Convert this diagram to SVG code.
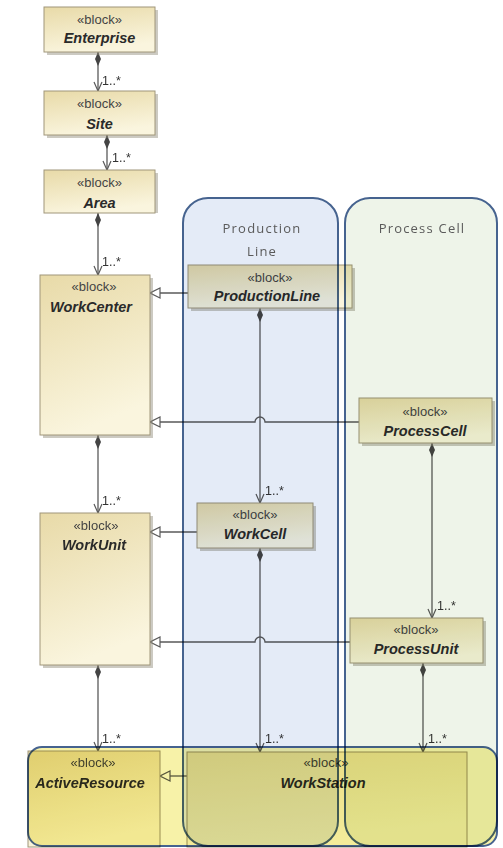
<svg xmlns="http://www.w3.org/2000/svg" width="503" height="848" viewBox="0 0 503 848">
  <style>
    .blk { stroke: #a0967a; stroke-width: 1; }
    .shd { fill: #8f8a78; opacity: 0.45; }
    .st { font-family: "Liberation Sans", Arial, sans-serif; font-size: 13px; fill: #444; text-anchor: middle; }
    .nm { font-family: "Liberation Sans", Arial, sans-serif; font-size: 14.5px; font-weight: bold; font-style: italic; fill: #2a2a2a; text-anchor: middle; }
    .mult { font-family: "Liberation Sans", Arial, sans-serif; font-size: 12.5px; fill: #333; }
    .cmp { fill: none; stroke: #5a5a5a; stroke-width: 1.3; marker-start: url(#diamond); marker-end: url(#open); }
    .gen { fill: none; stroke: #5a5a5a; stroke-width: 1.3; marker-end: url(#tri); }
    .lane { stroke: #46638f; stroke-width: 2; mix-blend-mode: multiply; }
    .hdr { font-family: "Open Sans", "DejaVu Sans", sans-serif; font-size: 13px; letter-spacing: 1.2px; fill: #5a5a5a; text-anchor: middle; }
  </style>
  <defs>
    <linearGradient id="tan" x1="0" y1="0" x2="0.3" y2="1">
      <stop offset="0" stop-color="#e8daa8"/>
      <stop offset="1" stop-color="#faf5de"/>
    </linearGradient>
    <linearGradient id="tanLight" x1="0" y1="0" x2="0.3" y2="1">
      <stop offset="0" stop-color="#f1e8c4"/>
      <stop offset="1" stop-color="#fcf9ea"/>
    </linearGradient>
    <marker id="diamond" markerUnits="userSpaceOnUse" markerWidth="16" markerHeight="10" viewBox="0 0 16 10" refX="0" refY="5" orient="auto">
      <path d="M0,5 L7,2 L14,5 L7,8 z" fill="#444"/>
    </marker>
    <marker id="open" markerUnits="userSpaceOnUse" markerWidth="11" markerHeight="10" viewBox="0 0 11 10" refX="10" refY="5" orient="auto">
      <path d="M1,1 L10,5 L1,9" fill="none" stroke="#5a5a5a" stroke-width="1.2"/>
    </marker>
    <marker id="tri" markerUnits="userSpaceOnUse" markerWidth="12" markerHeight="12" viewBox="0 0 12 12" refX="11" refY="6" orient="auto">
      <path d="M1,1 L11,6 L1,11 z" fill="#fff" stroke="#5a5a5a" stroke-width="1.2"/>
    </marker>
  </defs>

  <!-- connectors -->
  <g id="connectors">
    <path class="cmp" d="M98,52 V91"/>
    <path class="cmp" d="M107,135 V170"/>
    <path class="cmp" d="M98,213 V275"/>
    <path class="cmp" d="M98,435 V513"/>
    <path class="cmp" d="M98,665 V751"/>
    <path class="cmp" d="M260,308 V503"/>
    <path class="cmp" d="M260,548 V752"/>
    <path class="cmp" d="M432,443 V618"/>
    <path class="cmp" d="M423,663 V752"/>
    <path class="gen" d="M188,293 H150"/>
    <path class="gen" d="M359,422 H265 A5,5 0 0 0 255,422 H150"/>
    <path class="gen" d="M197,532 H150"/>
    <path class="gen" d="M350,642 H265 A5,5 0 0 0 255,642 H150"/>
    <path class="gen" d="M187,776 H160"/>
    <text class="mult" x="102" y="85">1..*</text>
    <text class="mult" x="112" y="162">1..*</text>
    <text class="mult" x="102" y="266">1..*</text>
    <text class="mult" x="102" y="505">1..*</text>
    <text class="mult" x="102" y="743">1..*</text>
    <text class="mult" x="265" y="495">1..*</text>
    <text class="mult" x="265" y="743">1..*</text>
    <text class="mult" x="437" y="610">1..*</text>
    <text class="mult" x="428" y="743">1..*</text>
  </g>

  <g id="Enterprise">
    <rect class="shd" x="47" y="10" width="111" height="45"/>
    <rect class="blk" x="44" y="7" width="111" height="45" fill="url(#tan)"/>
    <text class="st" x="99.5" y="24">«block»</text>
    <text class="nm" x="99.5" y="43">Enterprise</text>
  </g>
  <g id="Site">
    <rect class="shd" x="47" y="94" width="111" height="44"/>
    <rect class="blk" x="44" y="91" width="111" height="44" fill="url(#tan)"/>
    <text class="st" x="99.5" y="108">«block»</text>
    <text class="nm" x="99.5" y="129">Site</text>
  </g>
  <g id="Area">
    <rect class="shd" x="47" y="173" width="111" height="40"/>
    <rect class="blk" x="44" y="170" width="111" height="43" fill="url(#tan)"/>
    <text class="st" x="99.5" y="187">«block»</text>
    <text class="nm" x="99.5" y="208" font-style="normal">Area</text>
  </g>
  <g id="WorkCenter">
    <rect class="shd" x="43" y="278" width="110" height="160"/>
    <rect class="blk" x="40" y="275" width="110" height="160" fill="url(#tan)"/>
    <text class="st" x="94" y="291">«block»</text>
    <text class="nm" x="91" y="312">WorkCenter</text>
  </g>
  <g id="WorkUnit">
    <rect class="shd" x="43" y="516" width="110" height="152"/>
    <rect class="blk" x="40" y="513" width="110" height="152" fill="url(#tan)"/>
    <text class="st" x="96" y="530">«block»</text>
    <text class="nm" x="94" y="550">WorkUnit</text>
  </g>
  <g id="ActiveResource">
    <rect class="blk" x="28" y="751" width="132" height="96" fill="url(#tan)" stroke="#b08a60"/>
    <text class="st" x="93" y="767">«block»</text>
    <text class="nm" x="90" y="788">ActiveResource</text>
  </g>
  <g id="ProductionLine">
    <rect class="shd" x="191" y="268" width="164" height="43"/>
    <rect class="blk" x="188" y="265" width="164" height="43" fill="url(#tan)"/>
    <text class="st" x="270" y="282">«block»</text>
    <text class="nm" x="267" y="301">ProductionLine</text>
  </g>
  <g id="ProcessCell">
    <rect class="shd" x="362" y="401" width="133" height="45"/>
    <rect class="blk" x="359" y="398" width="133" height="45" fill="url(#tan)"/>
    <text class="st" x="425" y="416">«block»</text>
    <text class="nm" x="425" y="436">ProcessCell</text>
  </g>
  <g id="WorkCell">
    <rect class="shd" x="200" y="506" width="116" height="45"/>
    <rect class="blk" x="197" y="503" width="116" height="45" fill="url(#tan)"/>
    <text class="st" x="255" y="519">«block»</text>
    <text class="nm" x="255" y="539">WorkCell</text>
  </g>
  <g id="ProcessUnit">
    <rect class="shd" x="353" y="621" width="133" height="45"/>
    <rect class="blk" x="350" y="618" width="133" height="45" fill="url(#tan)"/>
    <text class="st" x="416" y="634">«block»</text>
    <text class="nm" x="416" y="654">ProcessUnit</text>
  </g>
  <g id="WorkStation">
    <rect class="blk" x="187" y="752" width="280" height="95" fill="url(#tanLight)"/>
    <text class="st" x="326" y="767">«block»</text>
    <text class="nm" x="323" y="788">WorkStation</text>
  </g>

  <!-- partitions, blended over the blocks they hold -->
  <g id="lane-ProductionLine">
    <rect class="lane" x="183" y="198" width="155" height="648" rx="25" fill="#e4ebf7"/>
    <text class="hdr" x="262" y="233">Production</text>
    <text class="hdr" x="262" y="256">Line</text>
  </g>
  <g id="lane-ProcessCell">
    <rect class="lane" x="345" y="198" width="152" height="648" rx="25" fill="#eef4e9"/>
    <text class="hdr" x="422" y="233">Process Cell</text>
  </g>
  <g id="lane-WorkStation">
    <rect class="lane" x="28" y="747" width="469" height="99" rx="14" fill="#f7f2a8"/>
  </g>
</svg>
